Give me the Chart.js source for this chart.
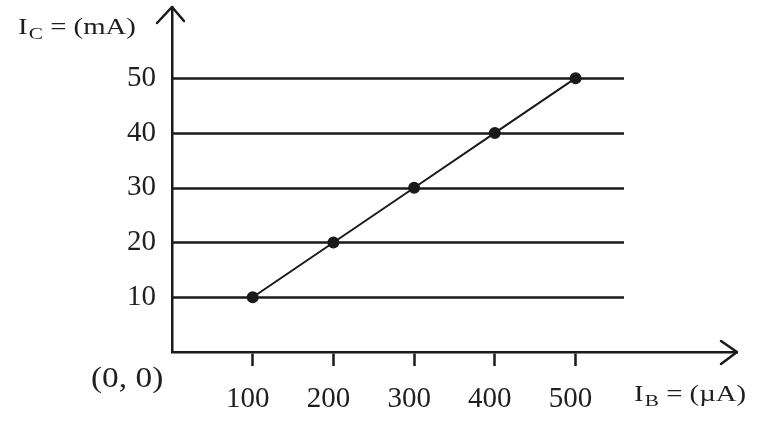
<!DOCTYPE html>
<html>
<head>
<meta charset="utf-8">
<script src="https://cdn.jsdelivr.net/npm/chart.js@4/dist/chart.umd.min.js"></script>
<style>
  html,body{margin:0;padding:0;background:#fff;}
  #wrap{width:767px;height:431px;position:relative;}
</style>
</head>
<body>
<div id="wrap"><canvas id="c" width="767" height="431"></canvas></div>
<script>
// Data
const baseCurrent = [100, 200, 300, 400, 500];      // I_B (µA)
const collectorCurrent = [10, 20, 30, 40, 50];      // I_C (mA)
const xTickValues = [100, 200, 300, 400, 500];
const yTickValues = [10, 20, 30, 40, 50];
const gridEndValue = 560;                           // horizontal lines stop here (I_B units)
const xAxisMax = 700;
const yAxisMax = 63;
const yTitle = { main: 'I', sub: 'C', rest: ' = (mA)' };
const xTitle = { main: 'I', sub: 'B', rest: ' = (\u00b5A)' };
const originLabel = '(0, 0)';

const INK = '#1a1a1a';
const TEXT = '#1f1f1f';
const SERIF = '"Liberation Serif", "DejaVu Serif", serif';

const points = baseCurrent.map((x, i) => ({ x, y: collectorCurrent[i] }));

const decor = {
  id: 'decor',
  beforeDatasetsDraw(chart) {
    const { ctx, scales: { x, y } } = chart;
    ctx.save();
    ctx.strokeStyle = INK;
    ctx.lineWidth = 2.5;
    const x0 = x.getPixelForValue(0), x1 = x.getPixelForValue(gridEndValue);
    yTickValues.forEach(v => {
      const py = Math.round(y.getPixelForValue(v)) + 0.5;
      ctx.beginPath(); ctx.moveTo(x0, py); ctx.lineTo(x1, py); ctx.stroke();
    });
    ctx.restore();
  },
  afterDraw(chart) {
    const { ctx, scales: { x, y } } = chart;
    const ax = x.getPixelForValue(0), ay = y.getPixelForValue(0);
    const topY = y.getPixelForValue(yAxisMax), rightX = x.getPixelForValue(xAxisMax);
    ctx.save();
    ctx.strokeStyle = INK; ctx.lineWidth = 2.5; ctx.lineCap = 'round'; ctx.lineJoin = 'round';
    // y arrow
    ctx.beginPath();
    ctx.moveTo(ax - 15, topY + 16); ctx.lineTo(ax, topY); ctx.lineTo(ax + 12, topY + 14);
    ctx.stroke();
    // x arrow
    ctx.beginPath();
    ctx.moveTo(rightX - 16, ay - 11); ctx.lineTo(rightX, ay); ctx.lineTo(rightX - 16, ay + 12);
    ctx.stroke();

    ctx.fillStyle = TEXT;
    ctx.textBaseline = 'middle';
    ctx.textAlign = 'left';
    function title(t, px, py, size, sx) {
      ctx.save();
      ctx.translate(px, py);
      ctx.scale(sx, 1);
      ctx.font = size + 'px ' + SERIF;
      ctx.fillText(t.main, 0, 0);
      let w = ctx.measureText(t.main).width;
      ctx.font = Math.round(size * 0.75) + 'px ' + SERIF;
      ctx.fillText(t.sub, w + 1, size * 0.28);
      w += ctx.measureText(t.sub).width + 1;
      ctx.font = size + 'px ' + SERIF;
      ctx.fillText(t.rest, w, 0);
      ctx.restore();
    }
    title(yTitle, 18, 28, 23, 1.25);
    title(xTitle, 634, 395, 23, 1.25);
    ctx.save();
    ctx.translate(91, 379);
    ctx.scale(1.15, 1);
    ctx.font = '29px ' + SERIF;
    ctx.fillText(originLabel, 0, 0);
    ctx.restore();
    ctx.restore();
  }
};

new Chart(document.getElementById('c'), {
  type: 'scatter',
  data: {
    datasets: [{
      data: points,
      showLine: true,
      borderColor: INK,
      borderWidth: 2,
      backgroundColor: INK,
      pointBackgroundColor: INK,
      pointBorderColor: INK,
      pointRadius: 5,
      tension: 0
    }]
  },
  options: {
    responsive: false,
    animation: false,
    events: [],
    layout: { padding: { top: 6, right: 30, left: 0, bottom: 0 } },
    plugins: { legend: { display: false }, tooltip: { enabled: false } },
    scales: {
      x: {
        type: 'linear', min: 0, max: xAxisMax,
        afterBuildTicks: s => { s.ticks = xTickValues.map(v => ({ value: v })); },
        afterFit: s => { s.height = 79; s.paddingLeft = 0; s.paddingRight = 0; },
        border: { display: true, color: INK, width: 2.5 },
        grid: { display: true, drawOnChartArea: false, drawTicks: true, tickLength: 14, tickWidth: 2.5, tickColor: INK, color: INK },
        ticks: { color: TEXT, font: { family: SERIF, size: 29 }, padding: 16, labelOffset: -5, maxRotation: 0, autoSkip: false }
      },
      y: {
        type: 'linear', min: 0, max: yAxisMax,
        afterBuildTicks: s => { s.ticks = yTickValues.map(v => ({ value: v })); },
        afterFit: s => { s.width = 172; s.paddingTop = 0; s.paddingBottom = 0; },
        border: { display: true, color: INK, width: 2.5 },
        grid: { display: false, drawTicks: false },
        ticks: { color: TEXT, font: { family: SERIF, size: 29 }, padding: 16, autoSkip: false }
      }
    }
  },
  plugins: [decor]
});
</script>
</body>
</html>
